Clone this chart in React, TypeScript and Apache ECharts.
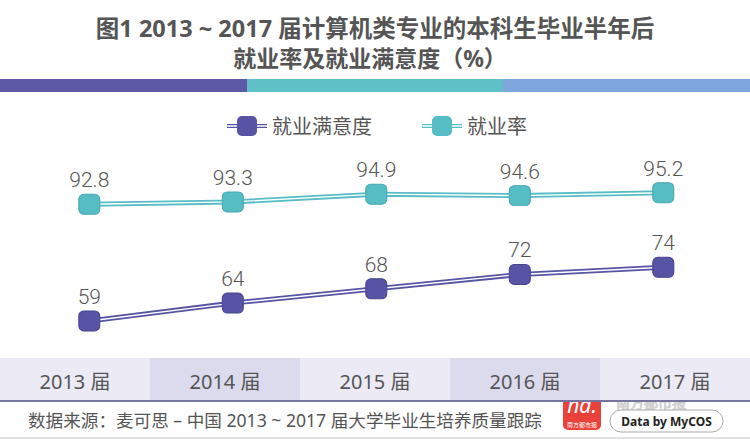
import React, { useEffect, useRef } from 'react';
import * as echarts from 'echarts';

const years = ['2013 届', '2014 届', '2015 届', '2016 届', '2017 届'];
const satisfaction = [59, 64, 68, 72, 74];
const employment = [92.8, 93.3, 94.9, 94.6, 95.2];
const seriesNames = ['就业满意度', '就业率'];
const titleLine1 = '图1 2013 ~ 2017 届计算机类专业的本科生毕业半年后';
const titleLine2 = '就业率及就业满意度（%）';
const sourceText = '数据来源：麦可思 – 中国 2013 ~ 2017 届大学毕业生培养质量跟踪';

const PURPLE = '#5753a5';
const TEAL = '#56bdc5';
const FONT = '"Noto Sans", "Noto Sans CJK SC", sans-serif';
const NUMFONT = 'Roboto, "Noto Sans", sans-serif';

const markerPath = 'path://M5 0h11a5 5 0 0 1 5 5v10a5 5 0 0 1-5 5H5a5 5 0 0 1-5-5V5a5 5 0 0 1 5-5z';
const legendPath = 'path://M0 8h40v1.3H0z M0 10.7h40V12H0z M15 0h10a5 5 0 0 1 5 5v10a5 5 0 0 1-5 5H15a5 5 0 0 1-5-5V5a5 5 0 0 1 5-5z';

function lineLabel() {
  return {
    show: true,
    position: 'top',
    distance: 3,
    fontSize: 21,
    fontFamily: NUMFONT,
    fontWeight: 300,
    color: '#555',
  };
}

export default function App() {
  const ref = useRef<HTMLDivElement>(null);
  useEffect(() => {
    const chart = echarts.init(ref.current!, null, { renderer: 'svg' });
    const option = {
      animation: false,
      backgroundColor: '#fff',
      legend: {
        top: 111,
        left: 222,
        itemWidth: 40,
        itemHeight: 20,
        itemGap: 50,
        icon: legendPath,
        textStyle: { fontSize: 20, color: '#555', fontFamily: FONT },
        data: [
          { name: seriesNames[0], itemStyle: { color: PURPLE } },
          { name: seriesNames[1], itemStyle: { color: TEAL } },
        ],
      },
      grid: [
        { left: 89.3, right: 86.7, top: 100, height: 250 },
        { left: 0, right: 0, top: 358, height: 43 },
      ],
      xAxis: [
        {
          type: 'category',
          gridIndex: 0,
          data: years,
          boundaryGap: false,
          show: false,
        },
        {
          type: 'category',
          gridIndex: 1,
          data: years,
          boundaryGap: true,
          axisTick: { show: false },
          axisLine: { show: true, lineStyle: { color: '#76739f', width: 2 } },
          axisLabel: {
            margin: -20,
            verticalAlign: 'middle',
            fontSize: 20,
            color: '#555',
            fontFamily: FONT,
          },
          splitLine: { show: false },
          splitArea: { show: true, areaStyle: { color: ['#ebeaf5', '#dcdaed'] } },
        },
      ],
      yAxis: [
        { type: 'value', gridIndex: 0, min: 50.9, max: 120.7, show: false },
        { type: 'value', gridIndex: 0, min: 62.63, max: 114.4, show: false },
        { type: 'value', gridIndex: 1, min: 0, max: 1, show: false },
      ],
      series: [
        {
          name: seriesNames[0],
          type: 'line',
          xAxisIndex: 0,
          yAxisIndex: 0,
          data: satisfaction,
          symbol: 'none',
          lineStyle: { color: PURPLE, width: 5 },
          itemStyle: { color: PURPLE },
          z: 2,
          silent: true,
        },
        {
          name: seriesNames[0] + '-inner',
          type: 'line',
          xAxisIndex: 0,
          yAxisIndex: 0,
          data: satisfaction,
          symbol: markerPath,
          symbolSize: [21, 20],
          symbolKeepAspect: false,
          showAllSymbol: true,
          lineStyle: { color: '#fff', width: 1.4 },
          itemStyle: { color: PURPLE, borderColor: '#47438f', borderWidth: 1 },
          label: lineLabel(),
          z: 3,
        },
        {
          name: seriesNames[1],
          type: 'line',
          xAxisIndex: 0,
          yAxisIndex: 1,
          data: employment,
          symbol: 'none',
          lineStyle: { color: TEAL, width: 5 },
          itemStyle: { color: TEAL },
          z: 2,
          silent: true,
        },
        {
          name: seriesNames[1] + '-inner',
          type: 'line',
          xAxisIndex: 0,
          yAxisIndex: 1,
          data: employment,
          symbol: markerPath,
          symbolSize: [21, 20],
          symbolKeepAspect: false,
          showAllSymbol: true,
          lineStyle: { color: '#fff', width: 1.4 },
          itemStyle: { color: TEAL, borderColor: '#45a7af', borderWidth: 1 },
          label: lineLabel(),
          z: 3,
        },
      ],
      graphic: [
        {
          type: 'text',
          x: 375,
          y: 28,
          style: {
            text: titleLine1,
            fontSize: 23.5,
            fontWeight: 'bold',
            fill: '#555',
            fontFamily: FONT,
            align: 'center',
            verticalAlign: 'middle',
          },
        },
        {
          type: 'text',
          x: 370,
          y: 58,
          style: {
            text: titleLine2,
            fontSize: 23,
            fontWeight: 'bold',
            fill: '#555',
            fontFamily: FONT,
            align: 'center',
            verticalAlign: 'middle',
          },
        },
        { type: 'rect', shape: { x: 0, y: 79, width: 247, height: 13 }, style: { fill: '#5e59a6' } },
        { type: 'rect', shape: { x: 247, y: 79, width: 256, height: 13 }, style: { fill: '#5fc0c8' } },
        { type: 'rect', shape: { x: 503, y: 79, width: 247, height: 13 }, style: { fill: '#7fa7dd' } },
        {
          type: 'text',
          x: 28,
          y: 420,
          style: {
            text: sourceText,
            fontSize: 17.6,
            fill: '#555',
            fontFamily: FONT,
            verticalAlign: 'middle',
          },
        },
        { type: 'line', shape: { x1: 0, y1: 438, x2: 750, y2: 438 }, style: { stroke: '#c4c4c4', lineWidth: 1 } },
        {
          type: 'text',
          x: 616,
          y: 402.5,
          style: {
            text: '南方都市报',
            fontSize: 14,
            fill: 'rgba(255,255,255,0)',
            stroke: '#d0d0d0',
            lineWidth: 1,
            fontFamily: FONT,
            verticalAlign: 'middle',
          },
        },
        {
          type: 'rect',
          shape: { x: 610, y: 410, width: 113, height: 22, r: 11 },
          style: { fill: '#fff', stroke: '#aaa', lineWidth: 1 },
        },
        {
          type: 'text',
          x: 666.5,
          y: 421,
          style: {
            text: 'Data by MyCOS',
            fontSize: 12,
            fontWeight: 'bold',
            fill: '#222',
            fontFamily: FONT,
            align: 'center',
            verticalAlign: 'middle',
          },
        },
        {
          type: 'rect',
          shape: { x: 563, y: 393, width: 38, height: 37, r: 5 },
          style: { fill: '#e9423b' },
        },
        {
          type: 'text',
          x: 582,
          y: 405,
          style: {
            text: 'nd.',
            fontSize: 21,
            fontStyle: 'italic',
            fill: '#fff',
            fontFamily: FONT,
            align: 'center',
            verticalAlign: 'middle',
          },
        },
        {
          type: 'text',
          x: 582,
          y: 425,
          style: {
            text: '南方都市报',
            fontSize: 6,
            fill: '#fff',
            fontFamily: FONT,
            align: 'center',
            verticalAlign: 'middle',
          },
        },
      ],
    };
    chart.setOption(option as any);
    return () => chart.dispose();
  }, []);
  return (
    <div
      ref={ref}
      style={{ position: 'fixed', left: 0, top: 0, width: 750, height: 442, background: '#fff' }}
    />
  );
}
